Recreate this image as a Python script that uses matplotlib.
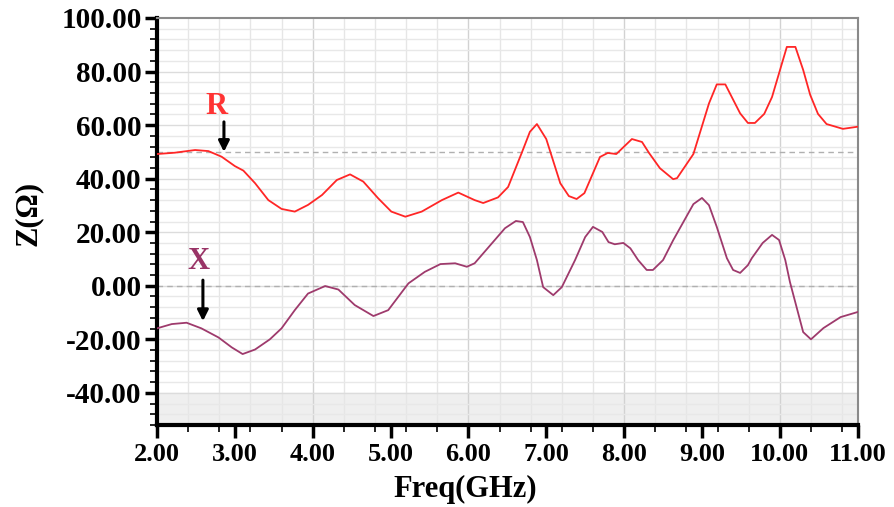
import numpy as np
import matplotlib
matplotlib.use("Agg")
import matplotlib.pyplot as plt
from matplotlib.ticker import MultipleLocator, FormatStrFormatter

# Data
freq_r = [2.0, 2.23, 2.49, 2.66, 2.83, 3.0, 3.11, 3.26, 3.43, 3.6, 3.77, 3.94, 4.12, 4.31,
          4.48, 4.65, 4.84, 5.01, 5.19, 5.4, 5.66, 5.87, 6.08, 6.19, 6.38, 6.51, 6.69, 6.79,
          6.88, 7.0, 7.18, 7.29, 7.39, 7.49, 7.69, 7.79, 7.9, 8.1, 8.23, 8.32, 8.46, 8.63,
          8.68, 8.89, 9.09, 9.19, 9.3, 9.49, 9.59, 9.68, 9.8, 9.9, 10.09, 10.2, 10.3, 10.39,
          10.49, 10.6, 10.81, 11.0]
r_vals = [49.2, 49.7, 50.7, 50.3, 48.2, 44.7, 43.0, 38.3, 32.0, 28.7, 27.7, 30.2, 33.9, 39.5,
          41.6, 38.9, 32.7, 27.7, 25.8, 27.7, 32.0, 34.8, 32.0, 30.9, 33.0, 36.9, 50.0, 57.5,
          60.4, 54.8, 38.3, 33.5, 32.4, 34.6, 48.1, 49.6, 49.2, 54.8, 53.7, 49.6, 43.9, 39.8,
          40.2, 49.2, 68.1, 75.2, 75.2, 64.4, 60.8, 60.8, 64.2, 70.5, 89.2, 89.2, 80.6, 71.3,
          64.2, 60.4, 58.6, 59.4]

freq_x = [2.0, 2.19, 2.38, 2.57, 2.79, 2.96, 3.1, 3.26, 3.45, 3.6, 3.77, 3.94, 4.16, 4.33,
          4.54, 4.78, 4.97, 5.23, 5.44, 5.64, 5.83, 5.98, 6.08, 6.47, 6.61, 6.7, 6.79, 6.88,
          6.96, 7.09, 7.2, 7.37, 7.5, 7.6, 7.72, 7.8, 7.88, 7.99, 8.08, 8.18, 8.29, 8.37, 8.5,
          8.63, 8.89, 9.0, 9.09, 9.19, 9.32, 9.4, 9.49, 9.59, 9.64, 9.78, 9.9, 9.99, 10.07,
          10.13, 10.3, 10.4, 10.56, 10.78, 11.0]
x_vals = [-15.9, -14.3, -13.8, -15.9, -19.3, -23.0, -25.5, -23.8, -20.0, -15.9, -9.1, -2.9, -0.1, -1.4,
          -7.2, -11.3, -9.1, 0.9, 5.2, 8.1, 8.4, 7.1, 8.4, 21.5, 24.2, 23.8, 18.2, 9.6,
          -0.5, -3.5, -0.5, 9.6, 18.2, 22.0, 20.1, 16.3, 15.5, 16.0, 14.0, 9.6, 5.9, 5.9, 9.6,
          17.0, 30.5, 32.8, 30.1, 22.0, 10.3, 5.9, 4.8, 7.7, 10.3, 16.0, 19.0, 17.1, 9.6,
          1.4, -17.3, -20.0, -15.8, -11.7, -9.8]

x_ticks = [2, 3, 4, 5, 6, 7, 8, 9, 10, 11]
y_ticks = [-40, -20, 0, 20, 40, 60, 80, 100]

serif = ['Liberation Serif', 'DejaVu Serif']

fig = plt.figure(figsize=(8.95, 5.07), dpi=100)
ax = fig.add_axes([0.1754, 0.1617, 0.9583 - 0.1754, 0.9645 - 0.1617])
ax.set_xlim(2, 11)
ax.set_ylim(-52, 100)

# shaded band
ax.axhspan(-52, -40, color='#efefef', zorder=0)

# grid
for gx in np.arange(2.4, 11.0, 0.4):
    c = '#d2d2d2' if abs(gx / 2 - round(gx / 2)) < 1e-6 else '#e6e6e6'
    ax.axvline(gx, color=c, lw=1.0, zorder=1)
for gy in np.arange(-48, 100, 4):
    c = '#dcdcdc' if gy % 20 == 0 else '#e8e8e8'
    ax.axhline(gy, color=c, lw=1.0, zorder=1)

# reference dashed lines
ax.axhline(50, color='#b0b0b0', lw=1.0, ls=(0, (4, 3)), zorder=2)
ax.axhline(0, color='#b0b0b0', lw=1.0, ls=(0, (4, 3)), zorder=2)

ax.plot(freq_r, r_vals, color='#ff2626', lw=1.3, zorder=3)
ax.plot(freq_x, x_vals, color='#9e3a6c', lw=1.3, zorder=3)

ax.xaxis.set_major_locator(plt.FixedLocator(x_ticks))
ax.yaxis.set_major_locator(plt.FixedLocator(y_ticks))
ax.xaxis.set_minor_locator(MultipleLocator(0.4))
ax.yaxis.set_minor_locator(MultipleLocator(4))
ax.xaxis.set_major_formatter(FormatStrFormatter('%.2f'))
ax.yaxis.set_major_formatter(FormatStrFormatter('%.2f'))

ax.tick_params(axis='both', which='major', direction='out', length=9, width=2.5, color='black')
ax.tick_params(axis='both', which='minor', direction='out', length=5, width=1.2, color='black')
ax.tick_params(top=False, right=False)
for lab in ax.get_yticklabels():
    lab.set_fontfamily(serif)
    lab.set_fontweight('bold')
    lab.set_fontsize(21)
for lab in ax.get_xticklabels():
    lab.set_fontfamily(serif)
    lab.set_fontweight('bold')
    lab.set_fontsize(19)
ax.tick_params(axis='y', pad=2)
ax.tick_params(axis='x', pad=4)

for s in ['left', 'bottom']:
    ax.spines[s].set_color('black')
    ax.spines[s].set_linewidth(3)
for s in ['top', 'right']:
    ax.spines[s].set_color('#8a8a8a')
    ax.spines[s].set_linewidth(1.5)

fig.text(465 / 895, 1 - 489 / 507, 'Freq(GHz)', ha='center', va='center',
         fontsize=22, fontweight='bold', family=serif)
fig.text(28 / 895, 1 - 213 / 507, 'Z(Ω)', ha='center', va='center', rotation=90,
         fontsize=22, fontweight='bold', family=serif)

ax.text(2.77, 66.8, 'R', color='#ff3333', fontsize=22, fontweight='bold', family=serif,
        ha='center', va='center', zorder=5)
ax.text(2.53, 8.9, 'X', color='#993366', fontsize=22, fontweight='bold', family=serif,
        ha='center', va='center', zorder=5)
ax.annotate('', xy=(2.86, 50.0), xytext=(2.86, 61.2),
            arrowprops=dict(arrowstyle='-|>', color='black', lw=2.2, mutation_scale=16,
                            shrinkA=0, shrinkB=0), zorder=5)
ax.annotate('', xy=(2.59, -13.2), xytext=(2.59, 2.1),
            arrowprops=dict(arrowstyle='-|>', color='black', lw=2.2, mutation_scale=16,
                            shrinkA=0, shrinkB=0), zorder=5)

fig.savefig('out.png', dpi=100, facecolor='white')
